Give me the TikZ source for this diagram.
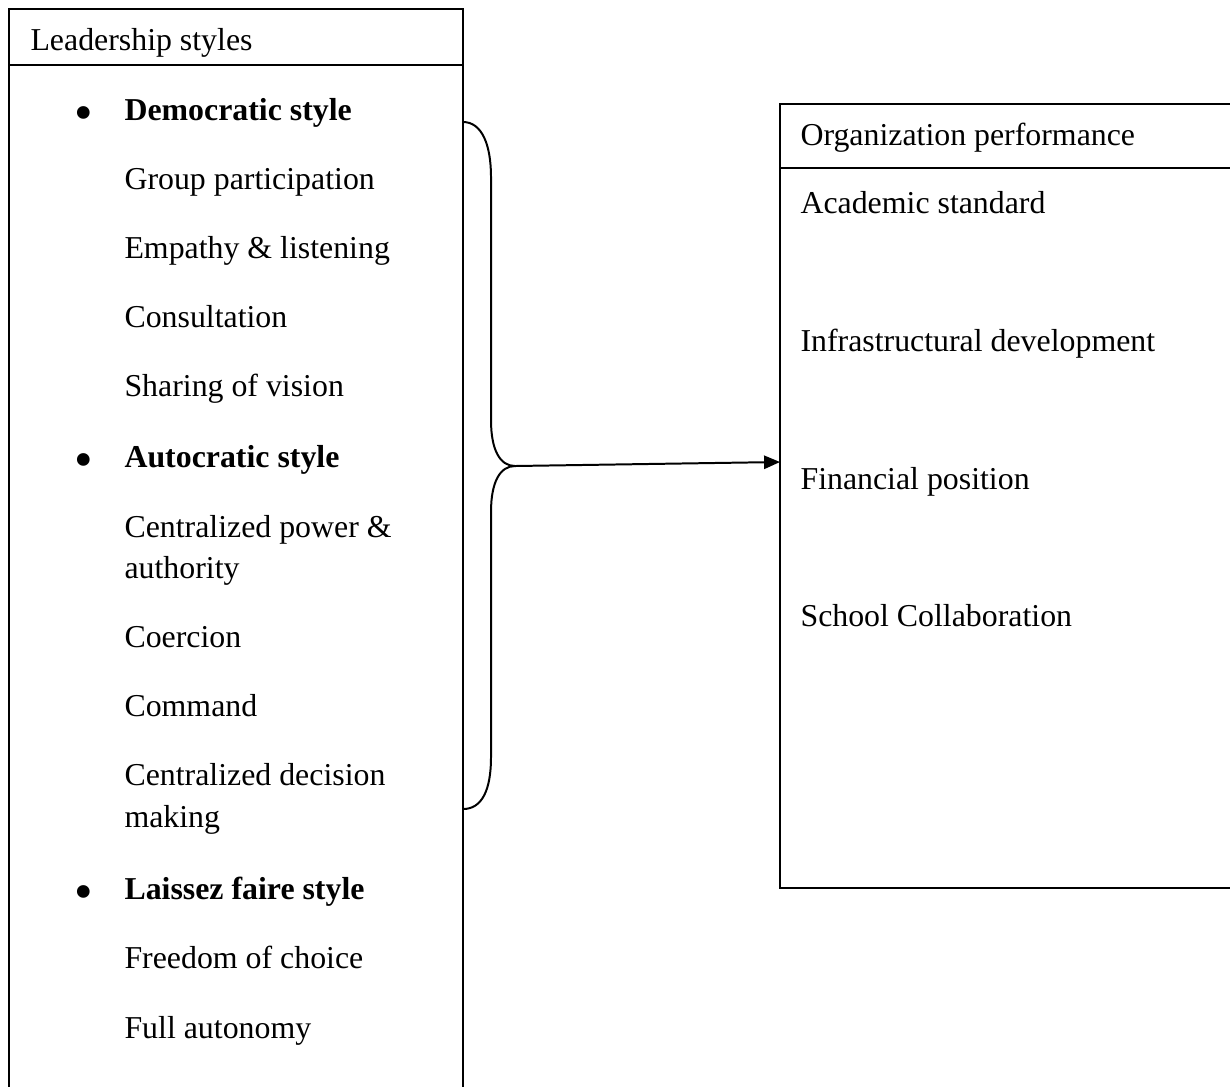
\documentclass[tikz,border=0pt]{standalone}
\usepackage{fontspec}
\setmainfont{Liberation Serif}
\usetikzlibrary{arrows.meta}

\begin{document}
\begin{tikzpicture}[x=0.3768pt,y=-0.3768pt,
    box/.style={line width=1pt},
    brace/.style={line width=0.75pt},
    item/.style={anchor=base west,inner sep=0pt,font=\fontsize{12}{14}\selectfont},
    head/.style={item,font=\fontsize{12}{14}\selectfont\bfseries},
    dot/.style={anchor=base,inner sep=0pt,font=\fontsize{20}{20}\selectfont}]
  \clip (0,0) rectangle (1230,1086);
  \draw[box] (9,1100) -- (9,9) -- (463,9) -- (463,1100);
  \draw[box] (9,65) -- (463,65);
  \draw[box] (1240,104) -- (780,104) -- (780,888) -- (1240,888);
  \draw[box] (780,168) -- (1240,168);
  \node[item](lead) at (30,50){Leadership styles};
  \node[dot](b1) at (84,130){\textbullet};
  \node[head](dem) at (124,120){Democratic style};
  \node[item](grp) at (124,189){Group participation};
  \node[item](emp) at (124,258){Empathy \& listening};
  \node[item](cons) at (124,327){Consultation};
  \node[item](share) at (124,396){Sharing of vision};
  \node[dot](b2) at (84,477){\textbullet};
  \node[head](auto) at (124,467){Autocratic style};
  \node[item](cpow) at (124,537){Centralized power \&};
  \node[item](auth) at (124,578){authority};
  \node[item](coer) at (124,647){Coercion};
  \node[item](comm) at (124,716){Command};
  \node[item](cdec) at (124,785){Centralized decision};
  \node[item](mak) at (124,827){making};
  \node[dot](b3) at (84,909){\textbullet};
  \node[head](lais) at (124,899){Laissez faire style};
  \node[item](free) at (124,968){Freedom of choice};
  \node[item](full) at (124,1038){Full autonomy};
  \node[item](org) at (800,145){Organization performance};
  \node[item](acad) at (800,213){Academic standard};
  \node[item](infra) at (800,351){Infrastructural development};
  \node[item](fin) at (800,489){Financial position};
  \node[item](coll) at (800,626){School Collaboration};
  \coordinate (top) at (463,122);
  \coordinate (bot) at (463,809);
  \coordinate (tip) at (515,466);
  \coordinate (perf) at (780,462);
  \draw[brace] (top) .. controls (482,122) and (491,145) .. (491,177) -- (491,420)
    .. controls (491,450) and (500,466) .. (tip)
    .. controls (500,466) and (491,482) .. (491,512) -- (491,757)
    .. controls (491,790) and (482,809) .. (bot);
  \draw[brace,-{Triangle[length=6pt,width=5pt]}] (tip) -- (perf);
\end{tikzpicture}
\end{document}
